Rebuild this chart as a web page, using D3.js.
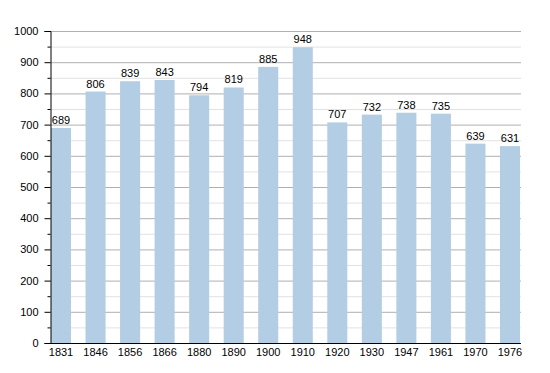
<!DOCTYPE html>
<html>
<head>
<meta charset="utf-8">
<script src="https://cdn.jsdelivr.net/npm/d3@7"></script>
<style>
  body { margin: 0; background: #fff; }
  text { font-family: "Liberation Sans", Arial, sans-serif; }
</style>
</head>
<body>
<script>
const years = ["1831", "1846", "1856", "1866", "1880", "1890", "1900", "1910", "1920", "1930", "1947", "1961", "1970", "1976"];
const population = [689, 806, 839, 843, 794, 819, 885, 948, 707, 732, 738, 735, 639, 631];
const yTicks = [0, 100, 200, 300, 400, 500, 600, 700, 800, 900, 1000];
const yMinor = [50, 150, 250, 350, 450, 550, 650, 750, 850, 950];

const width = 550;
const height = 373;

const svg = d3.select("body").append("svg").attr("width", width).attr("height", height);

const x = d3.scaleBand()
  .domain(years)
  .range([51, 520])
  .paddingInner(0.42)
  .paddingOuter(0);

const y = d3.scaleLinear()
  .domain([0, 1000])
  .range([343, 31]);

const left = 50, right = 521;

// minor gridlines
svg.selectAll("line.minor")
  .data(yMinor)
  .join("line")
  .attr("x1", left).attr("x2", right)
  .attr("y1", (d) => y(d) + 0.5).attr("y2", (d) => y(d) + 0.5)
  .attr("stroke", "#e2e2e2");

// major gridlines
svg.selectAll("line.major")
  .data(yTicks.slice(1))
  .join("line")
  .attr("x1", left).attr("x2", right)
  .attr("y1", (d) => y(d) + 0.5).attr("y2", (d) => y(d) + 0.5)
  .attr("stroke", "#b0b0b0");

// bars
svg.selectAll("rect.bar")
  .data(population)
  .join("rect")
  .attr("x", (d, i) => x(years[i]))
  .attr("y", (d) => y(d))
  .attr("width", x.bandwidth())
  .attr("height", (d) => y(0) - y(d))
  .attr("fill", "#b3cde5");

// value labels
svg.selectAll("text.val")
  .data(population)
  .join("text")
  .attr("x", (d, i) => x(years[i]) + x.bandwidth() / 2)
  .attr("y", (d) => y(d) - 4)
  .attr("text-anchor", "middle")
  .attr("font-size", 11)
  .attr("fill", "#000")
  .text((d) => d);

// y axis
const yAxis = svg.append("g")
  .attr("transform", `translate(${left + 0.5},0)`)
  .call(d3.axisLeft(y).tickValues(yTicks).tickFormat(d3.format("d")).tickSize(6).tickPadding(6));
yAxis.select(".domain").attr("stroke", "#000");
yAxis.selectAll("text").attr("font-size", 11).attr("font-family", "Liberation Sans, Arial, sans-serif");

// minor ticks
yAxis.selectAll("line.mt")
  .data(yMinor)
  .join("line")
  .attr("x1", -3).attr("x2", 0)
  .attr("y1", (d) => y(d) + 0.5).attr("y2", (d) => y(d) + 0.5)
  .attr("stroke", "#000");

// x axis
svg.append("line")
  .attr("x1", left).attr("x2", right)
  .attr("y1", y(0) + 0.5).attr("y2", y(0) + 0.5)
  .attr("stroke", "#000");

svg.selectAll("text.year")
  .data(years)
  .join("text")
  .attr("x", (d) => x(d) + x.bandwidth() / 2)
  .attr("y", 356)
  .attr("text-anchor", "middle")
  .attr("font-size", 11)
  .text((d) => d);
</script>
</body>
</html>
